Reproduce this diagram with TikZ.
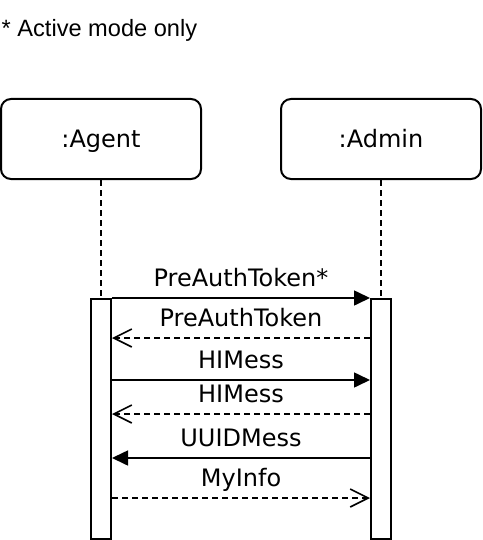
\documentclass[tikz,border=0pt]{standalone}
\usepackage{fontspec}
\newfontfamily\labfont{DejaVu Sans}
\newfontfamily\hdrfont{Liberation Sans}
\usetikzlibrary{arrows.meta,calc}
\begin{document}
\begin{tikzpicture}[x=1pt,y=-1pt,
  actor/.style={draw,line width=2pt,rounded corners=10pt,minimum width=200pt,minimum height=80pt,inner sep=0pt,text height=17.5pt,text depth=0pt,font=\labfont\fontsize{24}{28}\selectfont},
  bar/.style={draw,line width=2pt,fill=white,minimum width=20pt,minimum height=240pt,inner sep=0pt},
  life/.style={line width=2pt,dash pattern=on 6pt off 4pt},
  call/.style={line width=1.6pt,-{Triangle[length=16pt,width=15pt]}},
  reply/.style={line width=1.6pt,dash pattern=on 6pt off 4pt,-{Straight Barb[length=18pt,width=18pt,line width=1.6pt]}},
  lab/.style={midway,yshift=20pt,inner sep=0pt,text height=17.5pt,text depth=0pt,font=\labfont\fontsize{24}{28}\selectfont}]
\useasboundingbox (0,0) rectangle (482,540);
\node[anchor=west,inner sep=0pt,text height=17.2pt,text depth=0pt,font=\hdrfont\fontsize{23.6}{27}\selectfont] (note) at (1.5,27.5) {* Active mode only};
\node[actor] (agent) at (101,139) {:Agent};
\node[actor] (admin) at (381,139) {:Admin};
\node[bar] (agentbar) at (101,419) {};
\node[bar] (adminbar) at (381,419) {};
\draw[life] (agent.south) -- (agentbar.north);
\draw[life] (admin.south) -- (adminbar.north);
\draw[call] ([yshift=0pt]agentbar.north east) -- ([yshift=0pt]adminbar.north west) node[lab] {PreAuthToken*};
\draw[reply] ([yshift=-40pt]adminbar.north west) -- ([yshift=-40pt]agentbar.north east) node[lab] {PreAuthToken};
\draw[call] ([yshift=-82pt]agentbar.north east) -- ([yshift=-82pt]adminbar.north west) node[lab] {HIMess};
\draw[reply] ([yshift=-116pt]adminbar.north west) -- ([yshift=-116pt]agentbar.north east) node[lab] {HIMess};
\draw[call] ([yshift=-160pt]adminbar.north west) -- ([yshift=-160pt]agentbar.north east) node[lab] {UUIDMess};
\draw[reply] ([yshift=-200pt]agentbar.north east) -- ([yshift=-200pt]adminbar.north west) node[lab] {MyInfo};
\end{tikzpicture}
\end{document}
